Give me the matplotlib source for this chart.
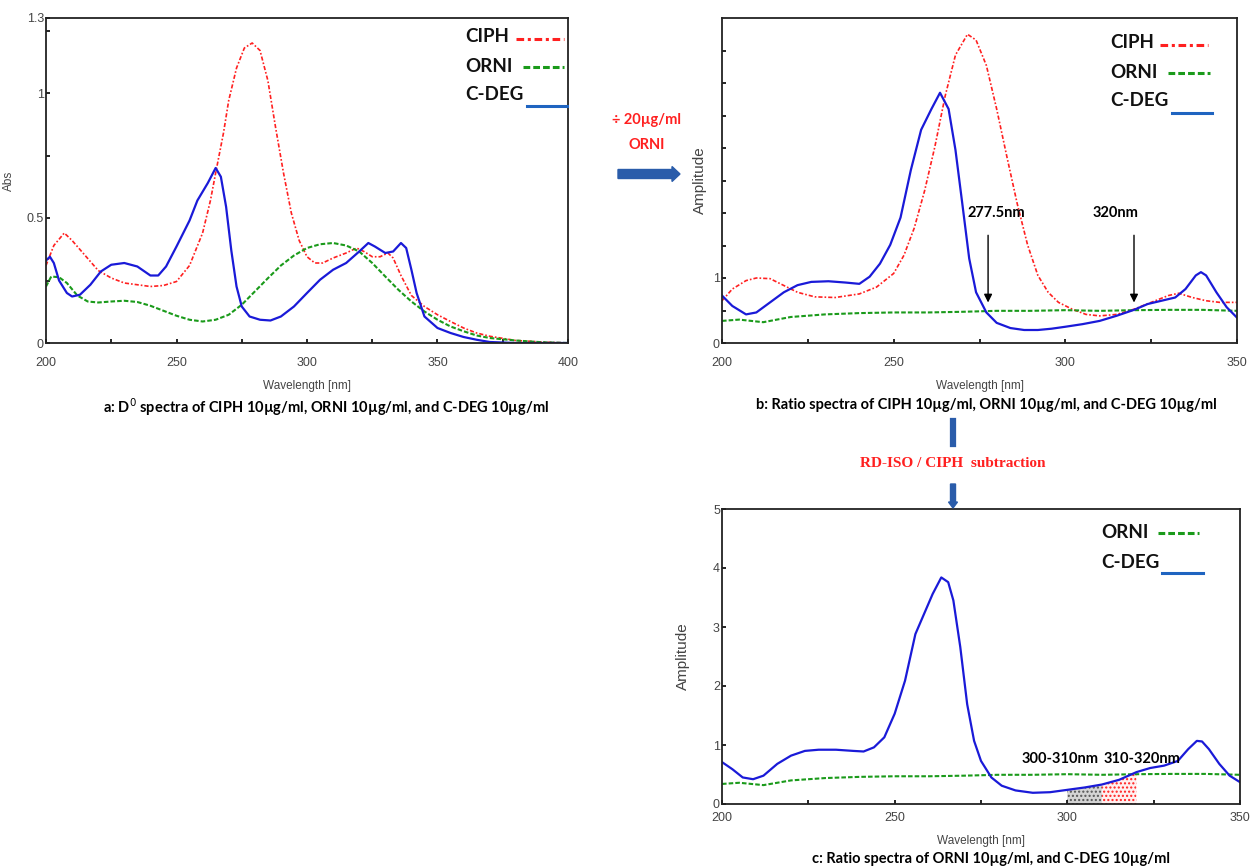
import matplotlib
matplotlib.use("Agg")
import matplotlib.pyplot as plt
from matplotlib.lines import Line2D
from matplotlib.patches import FancyArrow
import numpy as np

# ---- panel a: zero-order spectra ----
a_ciph_x = [200, 203, 207, 210, 215, 220, 225, 230, 235, 240, 245, 250, 255, 260, 263, 265, 268, 270,
            273, 276, 279, 282, 285, 288, 291, 294, 297, 300, 303, 306, 310, 315, 319, 322, 325, 328,
            331, 333, 336, 340, 345, 350, 355, 360, 365, 370, 380, 390, 400]
a_ciph_y = [0.31, 0.39, 0.44, 0.41, 0.35, 0.29, 0.26, 0.24, 0.233, 0.226, 0.23, 0.246, 0.31, 0.44, 0.57,
            0.68, 0.84, 0.97, 1.10, 1.18, 1.20, 1.17, 1.05, 0.86, 0.68, 0.52, 0.41, 0.345, 0.32, 0.32,
            0.34, 0.36, 0.38, 0.365, 0.345, 0.345, 0.36, 0.34, 0.27, 0.19, 0.146, 0.113, 0.086, 0.06,
            0.04, 0.027, 0.01, 0.004, 0.0]
a_orni_x = [200, 202, 205, 208, 212, 216, 220, 225, 230, 235, 240, 245, 250, 255, 260, 265, 270, 275,
            280, 285, 290, 295, 300, 305, 310, 315, 320, 325, 330, 335, 340, 345, 350, 355, 360, 365,
            370, 380, 390, 400]
a_orni_y = [0.226, 0.266, 0.263, 0.24, 0.19, 0.166, 0.162, 0.166, 0.169, 0.164, 0.149, 0.129, 0.109,
            0.093, 0.086, 0.093, 0.113, 0.153, 0.206, 0.259, 0.31, 0.35, 0.38, 0.395, 0.40, 0.39, 0.366,
            0.32, 0.266, 0.213, 0.166, 0.126, 0.093, 0.066, 0.047, 0.03, 0.02, 0.01, 0.003, 0.0]
a_cdeg_x = [200, 201.5, 203, 205, 208, 210, 213, 217, 221, 225, 230, 235, 240, 243, 246, 250, 255, 258,
            262, 265, 267, 269, 271, 273, 275, 278, 282, 286, 290, 295, 300, 305, 310, 315, 320, 323.5,
            326, 330, 333, 336, 338, 340, 342, 345, 350, 355, 360, 365, 370, 380, 400]
a_cdeg_y = [0.33, 0.345, 0.32, 0.25, 0.2, 0.186, 0.193, 0.233, 0.286, 0.313, 0.32, 0.306, 0.27, 0.27,
            0.306, 0.386, 0.49, 0.57, 0.64, 0.70, 0.665, 0.545, 0.37, 0.226, 0.146, 0.106, 0.093, 0.09,
            0.106, 0.146, 0.2, 0.253, 0.293, 0.32, 0.366, 0.40, 0.386, 0.36, 0.366, 0.40, 0.38, 0.293,
            0.2, 0.106, 0.06, 0.04, 0.024, 0.013, 0.004, 0.0, 0.0]

# ---- panel b: ratio spectra ----
b_ciph_x = [200, 203, 207, 210, 214, 218, 222, 227, 233, 240, 245, 250, 253, 256, 259, 262, 265, 268,
            271.5, 274, 277, 280, 283, 286, 289, 292, 295, 298, 302, 306, 310, 315, 320, 325, 330, 333,
            337, 341, 345, 350]
b_ciph_y = [0.65, 0.83, 0.96, 1.0, 0.99, 0.885, 0.78, 0.71, 0.70, 0.755, 0.86, 1.07, 1.35, 1.77, 2.34,
            3.02, 3.8, 4.43, 4.75, 4.66, 4.27, 3.6, 2.86, 2.14, 1.51, 1.04, 0.78, 0.625, 0.52, 0.44, 0.417,
            0.44, 0.52, 0.625, 0.73, 0.765, 0.70, 0.65, 0.625, 0.625]
orni_x = [200, 205, 212, 220, 230, 240, 250, 260, 270, 280, 290, 300, 310, 320, 330, 340, 350]
orni_y = [0.34, 0.36, 0.32, 0.40, 0.44, 0.46, 0.47, 0.47, 0.48, 0.495, 0.495, 0.505, 0.495, 0.505,
          0.51, 0.51, 0.495]
b_cdeg_x = [200, 203, 207, 210, 214, 218, 222, 226, 231, 236, 240, 243, 246, 249, 252, 255, 258, 261,
            263.5, 266, 268, 270, 272, 274, 277, 280, 284, 288, 292, 296, 300, 305, 310, 315, 320, 324,
            328, 332, 335, 338, 339.5, 341, 344, 347, 350]
b_cdeg_y = [0.73, 0.57, 0.44, 0.47, 0.625, 0.78, 0.89, 0.94, 0.95, 0.93, 0.91, 1.02, 1.22, 1.51, 1.93,
            2.66, 3.28, 3.6, 3.85, 3.6, 2.97, 2.14, 1.30, 0.78, 0.47, 0.31, 0.23, 0.2, 0.2, 0.22, 0.25,
            0.29, 0.34, 0.42, 0.51, 0.6, 0.65, 0.70, 0.83, 1.04, 1.09, 1.04, 0.78, 0.55, 0.39]

# ---- panel c: after subtraction ----
c_cdeg_x = [200, 203, 206, 209, 212, 216, 220, 224, 228, 233, 238, 241, 244, 247, 250, 253, 256, 258.5,
            261, 263.5, 265.5, 267, 269, 271, 273, 275, 278, 281, 285, 290, 295, 300, 305, 310, 315,
            320, 324, 328, 332, 335, 337.5, 339, 341, 344, 347, 350]
c_cdeg_y = [0.71, 0.59, 0.45, 0.42, 0.48, 0.68, 0.82, 0.9, 0.92, 0.92, 0.9, 0.89, 0.96, 1.13, 1.53,
            2.09, 2.88, 3.22, 3.56, 3.84, 3.76, 3.45, 2.66, 1.69, 1.07, 0.73, 0.45, 0.31, 0.23, 0.19,
            0.2, 0.24, 0.28, 0.33, 0.41, 0.54, 0.61, 0.65, 0.73, 0.93, 1.07, 1.06, 0.93, 0.68, 0.48, 0.37]

names = ["CIPH", "ORNI", "C-DEG"]

RED = "#ff2020"
GREEN = "#1a9a1a"
BLUE = "#1a1ad8"
LEG_BLUE = "#1f64c0"
ARROW_BLUE = "#2a5caa"
TICK_COLOR = "#444444"

W, H = 1252, 868
fig = plt.figure(figsize=(W / 100, H / 100), dpi=100)


def px_axes(left, top, right, bottom):
    return fig.add_axes([left / W, 1 - bottom / H, (right - left) / W, (bottom - top) / H])


def fx(x):
    return x / W


def fy(y):
    return 1 - y / H


ax_a = px_axes(46, 18, 568, 343)
ax_b = px_axes(722, 18, 1237, 343)
ax_c = px_axes(722, 509, 1240, 804)

ciph_ls = (0, (2.5, 1.2, 1, 1.2))
orni_ls = (0, (2.2, 1))


def style_axes(ax, xmax, minor_x, xlabel_pad, xpad):
    ax.set_xlim(200, xmax)
    ax.set_xticks(minor_x, minor=True)
    ax.tick_params(direction="in", labelsize=9, labelcolor=TICK_COLOR, length=3, width=1.2)
    ax.tick_params(axis="x", pad=xpad)
    ax.tick_params(axis="y", pad=1.5)
    ax.tick_params(which="minor", direction="in", length=3, width=1.2)
    for s in ax.spines.values():
        s.set_linewidth(1.3)
        s.set_color("#222222")
    ax.set_xlabel("Wavelength [nm]", fontsize=8.5, color=TICK_COLOR, labelpad=xlabel_pad,
                  family="Liberation Sans")
    for lab in ax.get_xticklabels() + ax.get_yticklabels():
        lab.set_family("Liberation Sans")


def legend_px(labels, colors, styles, text_x, text_ys, line_x0, line_x1, line_ys):
    for lab, c, s, ty, x0, x1, ly in zip(labels, colors, styles, text_ys, line_x0, line_x1, line_ys):
        fig.text(fx(text_x), fy(ty), lab, ha="left", va="center", fontsize=13.5,
                 family="Lato", weight="bold", color="#111111")
        fig.add_artist(Line2D([fx(x0), fx(x1)], [fy(ly), fy(ly)], color=c, ls=s, lw=2.2,
                              transform=fig.transFigure))


# panel a
ax_a.plot(a_ciph_x, a_ciph_y, color=RED, ls=ciph_ls, lw=1.2)
ax_a.plot(a_orni_x, a_orni_y, color=GREEN, ls=orni_ls, lw=1.5)
ax_a.plot(a_cdeg_x, a_cdeg_y, color=BLUE, lw=1.6)
ax_a.set_ylim(0, 1.3)
ax_a.set_xticks([200, 250, 300, 350, 400])
ax_a.set_yticks([0, 0.5, 1, 1.3])
ax_a.set_yticklabels(["0", "0.5", "1", "1.3"])
ax_a.set_yticks([0.25, 0.75, 1.25], minor=True)
style_axes(ax_a, 400, [225, 275, 325, 375], 8, 10)
ax_a.set_ylabel("Abs", fontsize=8.5, color=TICK_COLOR, family="Liberation Sans")
ax_a.yaxis.set_label_coords((15 - 46) / 522, 0.5)
legend_px(names, [RED, GREEN, LEG_BLUE], [ciph_ls, orni_ls, "-"],
          465, [37, 66, 95], [516, 523, 527], [564, 564, 567], [39, 67, 106])

# panel b
ax_b.plot(b_ciph_x, b_ciph_y, color=RED, ls=ciph_ls, lw=1.2)
ax_b.plot(orni_x, orni_y, color=GREEN, ls=orni_ls, lw=1.5)
ax_b.plot(b_cdeg_x, b_cdeg_y, color=BLUE, lw=1.6)
ax_b.set_ylim(0, 5)
ax_b.set_xticks([200, 250, 300, 350])
ax_b.set_yticks(np.arange(0, 5, 0.5))
ax_b.set_yticklabels(["0", "", "1"] + [""] * 7)
style_axes(ax_b, 350, [225, 275, 325], 8, 10)
ax_b.set_ylabel("Amplitude", fontsize=11, color=TICK_COLOR, family="Liberation Sans")
ax_b.yaxis.set_label_coords((707 - 722) / 515, 0.5)
legend_px(names, [RED, GREEN, LEG_BLUE], [ciph_ls, orni_ls, "-"],
          1110, [43, 72, 101], [1160, 1168, 1172], [1208, 1210, 1212], [45, 73, 113])
for wl, lab, tx in [(277.5, "277.5nm", 279.8), (320, "320nm", 314.5)]:
    ax_b.annotate("", xy=(wl, 0.58), xytext=(wl, 1.7),
                  arrowprops=dict(arrowstyle="-|>", color="black", lw=1.0, mutation_scale=12))
    ax_b.text(tx, 2.0, lab, ha="center", va="center", fontsize=10.5, family="Lato", weight="bold")

# panel c
ax_c.plot(orni_x, orni_y, color=GREEN, ls=orni_ls, lw=1.5)
ax_c.plot(c_cdeg_x, c_cdeg_y, color=BLUE, lw=1.6)
cx = np.array(c_cdeg_x)
cy = np.array(c_cdeg_y)
m1 = (cx >= 300) & (cx <= 310)
m2 = (cx >= 310) & (cx <= 320)
ax_c.fill_between(cx[m1], 0, cy[m1], facecolor="#d4d4d4", edgecolor="#555555", hatch="....", lw=0)
ax_c.fill_between(cx[m2], 0, cy[m2], facecolor="#fff0f0", edgecolor=RED, hatch="....", lw=0)
ax_c.set_ylim(0, 5)
ax_c.set_xticks([200, 250, 300, 350])
ax_c.set_yticks([0, 1, 2, 3, 4, 5])
style_axes(ax_c, 350, [225, 275, 325], 8, 6)
ax_c.set_ylabel("Amplitude", fontsize=11, color=TICK_COLOR, family="Liberation Sans")
ax_c.yaxis.set_label_coords((690 - 722) / 518, 0.5)
legend_px(names[1:], [GREEN, LEG_BLUE], [orni_ls, "-"],
          1101, [533, 563], [1158, 1162], [1199, 1203], [533, 573])
ax_c.text(298, 0.76, "300-310nm", ha="center", va="center", fontsize=10.5, family="Lato", weight="bold")
ax_c.text(321.5, 0.76, "310-320nm", ha="center", va="center", fontsize=10.5, family="Lato", weight="bold")

# captions
cap = dict(ha="center", va="center", fontsize=10.5, family="Lato", weight="bold")
fig.text(fx(326), fy(407), "a: D$^{0}$ spectra of CIPH 10\u00b5g/ml, ORNI 10\u00b5g/ml, and C-DEG 10\u00b5g/ml", **cap)
fig.text(fx(986), fy(405), "b: Ratio spectra of CIPH 10\u00b5g/ml, ORNI 10\u00b5g/ml, and C-DEG 10\u00b5g/ml", **cap)
fig.text(fx(991), fy(859), "c: Ratio spectra of ORNI 10\u00b5g/ml, and C-DEG 10\u00b5g/ml", **cap)

# arrows between panels
fig.text(fx(647), fy(120), "\u00f7 20\u00b5g/ml", ha="center", va="center",
         color=RED, fontsize=10.5, family="Lato", weight="bold")
fig.text(fx(647), fy(145), "ORNI", ha="center", va="center",
         color=RED, fontsize=10.5, family="Lato", weight="bold")
fig.add_artist(FancyArrow(fx(618), fy(174), fx(62), 0, width=9 / H, head_width=15 / H,
                          head_length=8 / W, length_includes_head=True, color=ARROW_BLUE,
                          transform=fig.transFigure))
fig.add_artist(Line2D([fx(953), fx(953)], [fy(421), fy(444)], color=ARROW_BLUE, lw=4.5,
                      transform=fig.transFigure))
fig.text(fx(953), fy(463), "RD-ISO / CIPH  subtraction", ha="center", va="center",
         color=RED, fontsize=11, family="Liberation Serif", weight="bold")
fig.add_artist(FancyArrow(fx(953), fy(484), 0, -24 / H, width=5 / W, head_width=9 / W,
                          head_length=6 / H, length_includes_head=True, color=ARROW_BLUE,
                          transform=fig.transFigure))

fig.savefig("out.png", dpi=100)
